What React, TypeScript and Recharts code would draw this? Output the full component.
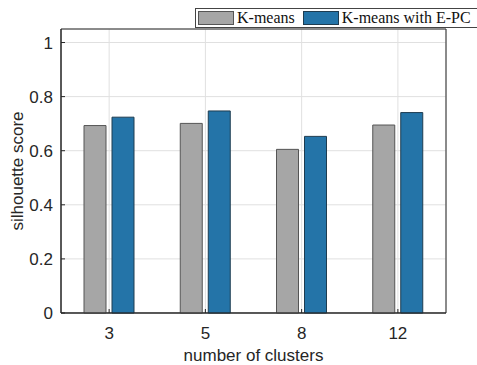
import { BarChart, Bar, XAxis, YAxis, CartesianGrid, ReferenceArea } from 'recharts'

const clusters = ['3', '5', '8', '12']
const kmeans = [0.693, 0.701, 0.605, 0.695]
const kmeansEpc = [0.724, 0.747, 0.653, 0.741]
const yTicks = [0, 0.2, 0.4, 0.6, 0.8, 1]
const yMax = 1.05

const data = clusters.map((c, i) => ({ k: c, kmeans: kmeans[i], epc: kmeansEpc[i] }))

const GRAY = '#a6a6a6'
const BLUE = '#2474a8'
const AXIS = '#262626'
const sans = '"Liberation Sans", Arial, sans-serif'

// legend box sits at the top right and runs past the window edge, like the original
const LegendBox = () => (
  <div
    style={{
      position: 'absolute',
      left: 195,
      top: 8,
      display: 'flex',
      alignItems: 'center',
      height: 20,
      width: 290,
      border: '1px solid #444',
      background: '#fff',
      fontFamily: '"Liberation Serif", "Times New Roman", serif',
      fontSize: 16,
      color: '#111',
      boxSizing: 'border-box',
      paddingLeft: 2,
      whiteSpace: 'nowrap',
    }}
  >
    <span style={{ display: 'inline-block', width: 34, height: 12, background: GRAY, border: '1px solid #555', marginRight: 3 }} />
    <span style={{ marginRight: 8 }}>K-means</span>
    <span style={{ display: 'inline-block', width: 34, height: 12, background: BLUE, border: '1px solid #1e3c50', marginRight: 3 }} />
    <span>K-means with E-PC</span>
  </div>
)

export default function App() {
  return (
    <div style={{ position: 'fixed', left: 0, top: 0, width: 477, height: 365, background: '#fff', overflow: 'hidden' }}>
      <BarChart
        width={477}
        height={365}
        data={data}
        margin={{ top: 29, right: 31, bottom: 0, left: 0 }}
        barSize={22}
        barGap={6}
      >
        <CartesianGrid stroke="#e0e0e0" />
        <XAxis
          dataKey="k"
          height={52}
          stroke={AXIS}
          tickSize={-4}
          tickMargin={18}
          tick={{ fill: AXIS, fontSize: 17, fontFamily: sans }}
          label={{ value: 'number of clusters', position: 'insideBottom', offset: 4, fill: AXIS, fontSize: 17, fontFamily: sans }}
        />
        <YAxis
          domain={[0, yMax]}
          ticks={yTicks}
          width={61}
          stroke={AXIS}
          tickSize={-4}
          tickMargin={12}
          tick={{ fill: AXIS, fontSize: 17, fontFamily: sans }}
          label={{ value: 'silhouette score', angle: -90, position: 'insideLeft', offset: 17, style: { textAnchor: 'middle' }, fill: AXIS, fontSize: 17, fontFamily: sans }}
        />
        <Bar dataKey="kmeans" name="K-means" fill={GRAY} stroke="#555" strokeWidth={1} isAnimationActive={false} />
        <Bar dataKey="epc" name="K-means with E-PC" fill={BLUE} stroke="#1e3c50" strokeWidth={1} isAnimationActive={false} />
        {/* frame around the plot area */}
        <ReferenceArea y1={0.0001} y2={yMax} ifOverflow="visible" fill="none" fillOpacity={0} stroke={AXIS} strokeWidth={1} />
      </BarChart>
      <LegendBox />
    </div>
  )
}
